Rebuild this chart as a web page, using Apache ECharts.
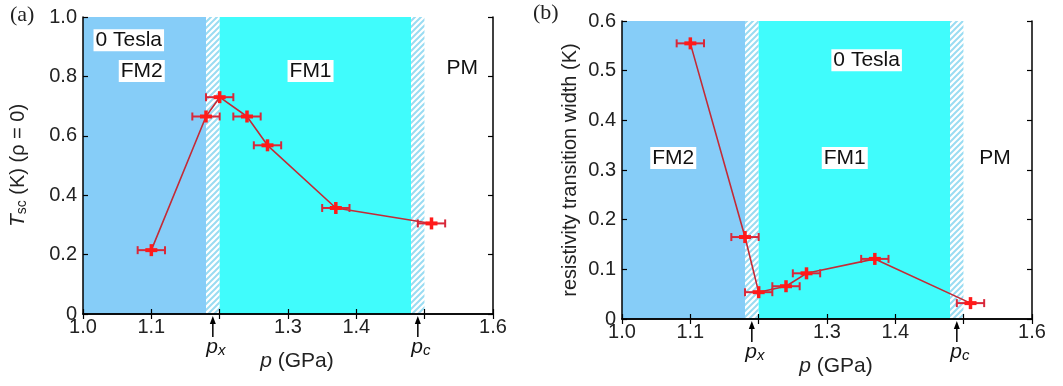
<!DOCTYPE html>
<html>
<head>
<meta charset="utf-8">
<script src="https://cdn.jsdelivr.net/npm/echarts@6/dist/echarts.min.js"></script>
<style>
html,body{margin:0;padding:0;background:#fff;}
#c{width:1063px;height:386px;}
</style>
</head>
<body>
<div id="c"></div>
<script>
// ---------- data ----------
var xTicks = [1.0, 1.1, 1.2, 1.3, 1.4, 1.5, 1.6];
var xHidden = [1.2, 1.5];               // tick labels replaced by p_x / p_c
var pA = [1.10, 1.18, 1.20, 1.24, 1.27, 1.37, 1.51];
var tA = [0.215, 0.665, 0.730, 0.665, 0.568, 0.357, 0.305];
var pErrA = [0.02, 0.02, 0.02, 0.02, 0.02, 0.02, 0.02];
var tErrA = [0.02, 0.02, 0.02, 0.02, 0.02, 0.02, 0.02];
var pB = [1.10, 1.18, 1.20, 1.24, 1.27, 1.37, 1.51];
var wB = [0.555, 0.165, 0.054, 0.066, 0.092, 0.121, 0.032];
var pErrB = [0.02, 0.02, 0.02, 0.02, 0.02, 0.02, 0.02];
var wErrB = [0.012, 0.012, 0.012, 0.012, 0.012, 0.012, 0.012];
// phase regions: [start, end, kind]
var regions = [[1.0, 1.18, 'FM2'], [1.18, 1.20, 'hatch'], [1.20, 1.48, 'FM1'], [1.48, 1.50, 'hatch'], [1.50, 1.6, 'PM']];
// critical pressures
var critP = [1.19, 1.49];
var critNames = ['x', 'c'];
// region labels: [p, value, text]
var labelsA = [[1.067, 0.922, '0 Tesla'], [1.086, 0.818, 'FM2'], [1.333, 0.818, 'FM1'], [1.555, 0.826, 'PM']];
var labelsB = [[1.358, 0.521, '0 Tesla'], [1.075, 0.324, 'FM2'], [1.326, 0.324, 'FM1'], [1.546, 0.324, 'PM']];

// ---------- styles ----------
var FONT = 'Liberation Sans, Arial, Helvetica, sans-serif';
var regionColor = { FM2: '#86CDF8', FM1: '#40FCFC', PM: '#ffffff' };
var hatchCanvas = document.createElement('canvas');
hatchCanvas.width = 6; hatchCanvas.height = 6;
(function () {
  var g = hatchCanvas.getContext('2d');
  g.fillStyle = '#ffffff'; g.fillRect(0, 0, 6, 6);
  g.strokeStyle = '#9adcf2'; g.lineWidth = 2;
  g.beginPath();
  g.moveTo(-1, 7); g.lineTo(7, -1);
  g.moveTo(-4, 4); g.lineTo(4, -4);
  g.moveTo(2, 10); g.lineTo(10, 2);
  g.stroke();
})();
function regionFill(kind) {
  return kind === 'hatch' ? { image: hatchCanvas, repeat: 'repeat' } : regionColor[kind];
}
function fmtX(v) {
  for (var i = 0; i < xHidden.length; i++) if (Math.abs(v - xHidden[i]) < 1e-6) return '';
  return v.toFixed(1);
}
function fmtY(v) { return Math.abs(v) < 1e-9 ? '0' : v.toFixed(1); }

var chart = echarts.init(document.getElementById('c'), null, { renderer: 'canvas' });

function axesFor(gi, yMax, yInt, yName, yNameGap, yRich) {
  var baseLine = { show: true, lineStyle: { color: '#000', width: 1.5 } };
  var tick = { show: true, inside: true, length: 5, lineStyle: { color: '#000', width: 1.2 } };
  var xs = [
    { type: 'value', gridIndex: gi, min: 1.0, max: 1.6, interval: 0.1, position: 'bottom', z: 10,
      axisLine: baseLine, axisTick: tick, splitLine: { show: false },
      axisLabel: { formatter: fmtX, color: '#222', fontFamily: FONT, fontSize: 20, margin: 3 },
      name: '{i|p} (GPa)', nameLocation: 'middle', nameGap: 37,
      nameTextStyle: { color: '#222', fontFamily: FONT, fontSize: 21, padding: [0, 0, 0, 18],
        rich: { i: { fontStyle: 'italic', fontFamily: FONT, fontSize: 21, color: '#222' } } } },
    { type: 'value', gridIndex: gi, min: 1.0, max: 1.6, interval: 0.1, position: 'top', z: 10,
      axisLine: baseLine, axisTick: tick, splitLine: { show: false }, axisLabel: { show: false } }
  ];
  var ys = [
    { type: 'value', gridIndex: gi, min: 0, max: yMax, interval: yInt, position: 'left', z: 10,
      axisLine: baseLine, axisTick: tick, splitLine: { show: false },
      axisLabel: { formatter: fmtY, color: '#222', fontFamily: FONT, fontSize: 20, margin: 6 },
      name: yName, nameLocation: 'middle', nameGap: yNameGap, nameRotate: 90,
      nameTextStyle: { color: '#222', fontFamily: FONT, fontSize: 20, rich: yRich } },
    { type: 'value', gridIndex: gi, min: 0, max: yMax, interval: yInt, position: 'right', z: 10,
      axisLine: baseLine, axisTick: tick, splitLine: { show: false }, axisLabel: { show: false } }
  ];
  return { xs: xs, ys: ys };
}

var axA = axesFor(0, 1.0, 0.2, '{i|T}{s|sc} (K) (ρ = 0)', 54, {
  i: { fontStyle: 'italic', fontFamily: FONT, fontSize: 21, color: '#222' },
  s: { fontFamily: FONT, fontSize: 14, color: '#222', verticalAlign: 'bottom', padding: [7, 0, 0, 0] }
});
var axB = axesFor(1, 0.6, 0.1, 'resistivity transition width (K)', 42, {});

function regionSeries(xi, yi) {
  return {
    type: 'custom', xAxisIndex: xi, yAxisIndex: yi, z: 1, silent: true, clip: true,
    data: regions.map(function (r) { return [r[0], r[1], r[2]]; }),
    renderItem: function (params, api) {
      var r = regions[params.dataIndex];
      var yAx = params.coordSys;
      var p0 = api.coord([r[0], 0]);
      var p1 = api.coord([r[1], 0]);
      return { type: 'rect', shape: { x: p0[0], y: yAx.y, width: p1[0] - p0[0], height: yAx.height },
        style: { fill: regionFill(r[2]) } };
    }
  };
}
function lineSeries(xi, yi, px, py) {
  return { type: 'line', xAxisIndex: xi, yAxisIndex: yi, z: 3, symbol: 'none',
    data: px.map(function (p, i) { return [p, py[i]]; }),
    lineStyle: { color: '#c42a36', width: 1.6 } };
}
function errSeries(xi, yi, px, py, ex, ey) {
  return {
    type: 'custom', xAxisIndex: xi, yAxisIndex: yi, z: 4, clip: false,
    data: px.map(function (p, i) { return [p, py[i], ex[i], ey[i]]; }),
    renderItem: function (params, api) {
      var x = api.value(0), y = api.value(1), dx = api.value(2), dy = api.value(3);
      var c = api.coord([x, y]);
      var l = api.coord([x - dx, y]);
      var r = api.coord([x + dx, y]);
      var t = api.coord([x, y + dy]);
      var b = api.coord([x, y - dy]);
      var dark = '#d8283a', bright = '#ff1a1a';
      return { type: 'group', children: [
        { type: 'line', shape: { x1: l[0], y1: c[1], x2: r[0], y2: c[1] }, style: { stroke: dark, lineWidth: 2 } },
        { type: 'line', shape: { x1: l[0], y1: c[1] - 4, x2: l[0], y2: c[1] + 4 }, style: { stroke: dark, lineWidth: 2 } },
        { type: 'line', shape: { x1: r[0], y1: c[1] - 4, x2: r[0], y2: c[1] + 4 }, style: { stroke: dark, lineWidth: 2 } },
        { type: 'line', shape: { x1: c[0] - 6, y1: c[1], x2: c[0] + 6, y2: c[1] }, style: { stroke: bright, lineWidth: 4 } },
        { type: 'line', shape: { x1: c[0], y1: Math.min(t[1], c[1] - 6), x2: c[0], y2: Math.max(b[1], c[1] + 6) }, style: { stroke: bright, lineWidth: 3.5 } }
      ] };
    }
  };
}
function labelSeries(xi, yi, labels) {
  return {
    type: 'custom', xAxisIndex: xi, yAxisIndex: yi, z: 5, clip: false, silent: true,
    data: labels.map(function (l) { return [l[0], l[1]]; }),
    renderItem: function (params, api) {
      var c = api.coord([api.value(0), api.value(1)]);
      return { type: 'text', x: c[0], y: c[1],
        style: { text: labels[params.dataIndex][2], fill: '#111', font: '21px ' + FONT,
          align: 'center', verticalAlign: 'middle', backgroundColor: '#fff', padding: [1, 2, 0, 2] } };
    }
  };
}
function arrowSeries(xi, yi) {
  return {
    type: 'custom', xAxisIndex: xi, yAxisIndex: yi, z: 6, clip: false, silent: true,
    data: critP.map(function (p) { return [p, 0]; }),
    renderItem: function (params, api) {
      var c = api.coord([api.value(0), 0]);
      var x = c[0], y = c[1];
      return { type: 'group', children: [
        { type: 'line', shape: { x1: x, y1: y + 8, x2: x, y2: y + 23 }, style: { stroke: '#000', lineWidth: 1.5 } },
        { type: 'polygon', shape: { points: [[x, y + 2], [x - 3, y + 10], [x + 3, y + 10]] }, style: { fill: '#000' } },
        { type: 'text', x: x + 3, y: y + 33,
          style: { text: '{p|p}{s|' + critNames[params.dataIndex] + '}', align: 'center', verticalAlign: 'middle',
            rich: { p: { fontStyle: 'italic', fontFamily: FONT, fontSize: 21, fill: '#111' },
                    s: { fontStyle: 'italic', fontFamily: FONT, fontSize: 15, fill: '#111', padding: [8, 0, 0, 0] } } } }
      ] };
    }
  };
}

var option = {
  backgroundColor: '#fff',
  animation: false,
  grid: [
    { left: 83, top: 17, width: 410, height: 297 },
    { left: 622, top: 21, width: 410, height: 298 }
  ],
  xAxis: axA.xs.concat(axB.xs),
  yAxis: axA.ys.concat(axB.ys),
  graphic: [
    { type: 'text', left: 10, top: 4, style: { text: '(a)', font: '22px Liberation Serif, Times New Roman, serif', fill: '#222' } },
    { type: 'text', left: 533, top: 2, style: { text: '(b)', font: '22px Liberation Serif, Times New Roman, serif', fill: '#222' } }
  ],
  series: [
    regionSeries(0, 0), lineSeries(0, 0, pA, tA), errSeries(0, 0, pA, tA, pErrA, tErrA), labelSeries(0, 0, labelsA), arrowSeries(0, 0),
    regionSeries(2, 2), lineSeries(2, 2, pB, wB), errSeries(2, 2, pB, wB, pErrB, wErrB), labelSeries(2, 2, labelsB), arrowSeries(2, 2)
  ]
};
chart.setOption(option);
</script>
</body>
</html>
